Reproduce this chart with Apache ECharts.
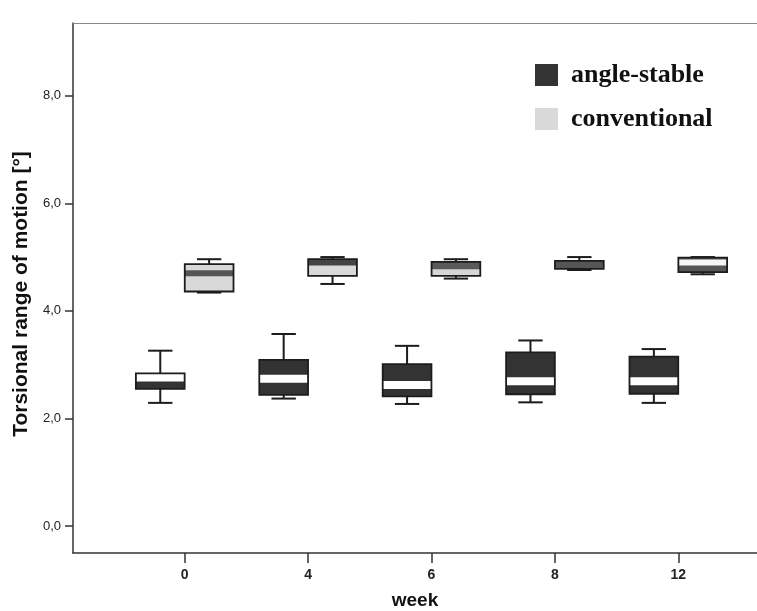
<!DOCTYPE html>
<html><head><meta charset="utf-8">
<script src="https://cdn.jsdelivr.net/npm/echarts@6/dist/echarts.min.js"></script>
<style>html,body{margin:0;padding:0;background:#fff}#c{width:757px;height:611px}</style>
</head><body><div id="c"></div>
<script>
// ---- data ----
const weeks = ['0', '4', '6', '8', '12'];
const yTicks = [0, 2, 4, 6, 8];
const angleStableMin    = [2.29, 2.37, 2.27, 2.30, 2.29];
const angleStableQ1     = [2.55, 2.44, 2.41, 2.45, 2.46];
const angleStableMedian = [2.76, 2.74, 2.62, 2.69, 2.69];
const angleStableQ3     = [2.84, 3.09, 3.01, 3.23, 3.15];
const angleStableMax    = [3.26, 3.57, 3.35, 3.45, 3.29];
const conventionalMin    = [4.34, 4.50, 4.60, 4.76, 4.68];
const conventionalQ1     = [4.36, 4.65, 4.65, 4.78, 4.72];
const conventionalMedian = [4.70, 4.90, 4.72, 4.85, 4.90];
const conventionalQ3     = [4.87, 4.96, 4.91, 4.93, 4.99];
const conventionalMax    = [4.96, 5.00, 4.96, 5.00, 5.00];

// ---- styles ----
const angleFill = ['#333333', '#333333', '#333333', '#333333', '#333333'];
const angleBand = ['#ffffff', '#ffffff', '#ffffff', '#ffffff', '#ffffff'];
const convFill = ['#d9d9d9', '#d9d9d9', '#5a5a5a', '#555555', '#555555'];
const convBand = ['#555555', '#444444', '#d6d6d6', '#555555', '#f6f6f6'];
const angleBandH = 8, convBandH = 6;

function buildData(mn, q1, md, q3, mx) {
  return weeks.map((w, i) => [i, mn[i], q1[i], md[i], q3[i], mx[i]]);
}

function makeRender(offsetFrac, fills, bands, bandH) {
  return function (params, api) {
    const i = api.value(0);
    const band = api.size([1, 0])[0];
    const cx = api.coord([i, 0])[0] + offsetFrac * band;
    const w = band * 0.395;
    const yMin = api.coord([i, api.value(1)])[1];
    const yQ1 = api.coord([i, api.value(2)])[1];
    const yMed = api.coord([i, api.value(3)])[1];
    const yQ3 = api.coord([i, api.value(4)])[1];
    const yMax = api.coord([i, api.value(5)])[1];
    const ls = { stroke: '#1c1c1c', lineWidth: 2 };
    const idx = params.dataIndex;
    const bTop = Math.max(yMed - bandH / 2, yQ3);
    const bBot = Math.min(yMed + bandH / 2, yQ1);
    return {
      type: 'group',
      children: [
        { type: 'line', shape: { x1: cx, y1: yMax, x2: cx, y2: yQ3 }, style: ls },
        { type: 'line', shape: { x1: cx, y1: yQ1, x2: cx, y2: yMin }, style: ls },
        { type: 'line', shape: { x1: cx - w / 4, y1: yMax, x2: cx + w / 4, y2: yMax }, style: ls },
        { type: 'line', shape: { x1: cx - w / 4, y1: yMin, x2: cx + w / 4, y2: yMin }, style: ls },
        { type: 'rect', shape: { x: cx - w / 2, y: yQ3, width: w, height: yQ1 - yQ3 }, style: { fill: fills[idx] } },
        { type: 'rect', shape: { x: cx - w / 2, y: bTop, width: w, height: bBot - bTop }, style: { fill: bands[idx] } },
        { type: 'rect', shape: { x: cx - w / 2, y: yQ3, width: w, height: yQ1 - yQ3 }, style: { fill: 'none', stroke: '#1c1c1c', lineWidth: 1.8 } }
      ]
    };
  };
}

const chart = echarts.init(document.getElementById('c'), null, { renderer: 'canvas' });
const fmt = v => v.toFixed(1).replace('.', ',');
const yMinV = -0.5, yMaxV = 9.35;

chart.setOption({
  backgroundColor: '#ffffff',
  animation: false,
  legend: {
    orient: 'vertical', left: 535, top: 62, padding: 0,
    itemWidth: 23, itemHeight: 22, itemGap: 18,
    icon: 'rect', selectedMode: false,
    data: [
      { name: 'angle-stable', itemStyle: { color: '#333333' } },
      { name: 'conventional', itemStyle: { color: '#d9d9d9' } }
    ],
    textStyle: { fontFamily: 'Liberation Serif', fontWeight: 'bold', fontSize: 26, color: '#111', padding: [0, 0, 0, 8] }
  },
  grid: [
    { left: 123, right: 17, top: 23, bottom: 58, containLabel: false, outerBoundsMode: 'none' },
    { left: 73, right: 0, top: 23, bottom: 58, containLabel: false, outerBoundsMode: 'none' }
  ],
  xAxis: [
    {
      gridIndex: 0, type: 'category', data: weeks,
      axisLine: { show: false, onZero: false },
      axisTick: { show: true, alignWithLabel: true, length: 10, lineStyle: { color: '#333', width: 1.5 } },
      axisLabel: { interval: 0, margin: 15, fontFamily: 'Liberation Sans', fontWeight: 'bold', fontSize: 14, color: '#222' },
      splitLine: { show: false }
    },
    {
      gridIndex: 1, type: 'value', min: 0, max: 1, position: 'bottom',
      axisLine: { show: true, onZero: false, lineStyle: { color: '#333', width: 1.5 } },
      axisTick: { show: false }, axisLabel: { show: false }, splitLine: { show: false },
      name: 'week', nameLocation: 'middle', nameGap: 38,
      nameTextStyle: { fontFamily: 'Liberation Sans', fontWeight: 'bold', fontSize: 19, color: '#111' }
    },
    {
      gridIndex: 1, type: 'value', min: 0, max: 1, position: 'top',
      axisLine: { show: true, onZero: false, lineStyle: { color: '#888', width: 1 } },
      axisTick: { show: false }, axisLabel: { show: false }, splitLine: { show: false }
    }
  ],
  yAxis: [
    { gridIndex: 0, type: 'value', min: yMinV, max: yMaxV, show: false, splitLine: { show: false } },
    {
      gridIndex: 1, type: 'value', min: yMinV, max: yMaxV,
      axisLine: { show: true, onZero: false, lineStyle: { color: '#333', width: 1.5 } },
      axisTick: { show: true, customValues: yTicks, length: 8, lineStyle: { color: '#333', width: 1.5 } },
      axisLabel: { customValues: yTicks, formatter: fmt, margin: 12, fontFamily: 'Liberation Sans', fontSize: 13, color: '#222' },
      splitLine: { show: false },
      name: 'Torsional range of motion [°]', nameLocation: 'middle', nameGap: 39,
      nameTextStyle: { fontFamily: 'Liberation Sans', fontWeight: 'bold', fontSize: 21, color: '#111', padding: [0, 12, 0, 0] }
    }
  ],
  series: [
    {
      name: 'angle-stable', type: 'custom', xAxisIndex: 0, yAxisIndex: 0,
      itemStyle: { color: '#333333' },
      encode: { x: 0, y: [1, 2, 3, 4, 5] },
      renderItem: makeRender(-0.198, angleFill, angleBand, angleBandH),
      data: buildData(angleStableMin, angleStableQ1, angleStableMedian, angleStableQ3, angleStableMax)
    },
    {
      name: 'conventional', type: 'custom', xAxisIndex: 0, yAxisIndex: 0,
      itemStyle: { color: '#d9d9d9' },
      encode: { x: 0, y: [1, 2, 3, 4, 5] },
      renderItem: makeRender(0.198, convFill, convBand, convBandH),
      data: buildData(conventionalMin, conventionalQ1, conventionalMedian, conventionalQ3, conventionalMax)
    }
  ]
});
</script>
</body></html>
